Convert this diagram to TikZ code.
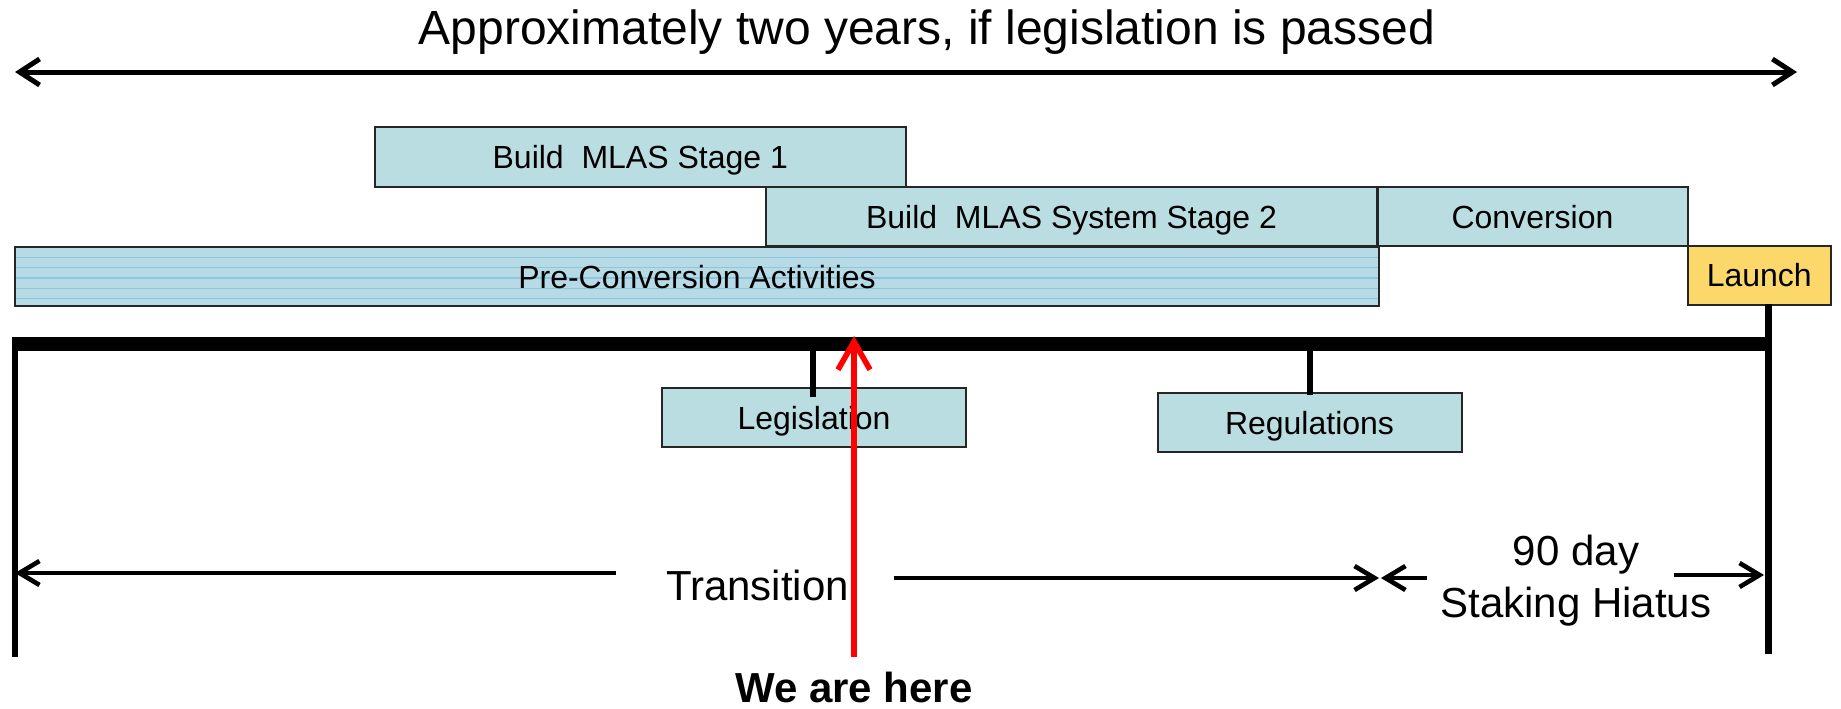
\documentclass[tikz,border=0pt]{standalone}
\usepackage{fontspec}
\setmainfont{Liberation Sans}
\usetikzlibrary{arrows.meta}
\definecolor{boxfill}{HTML}{B9DDE0}
\definecolor{prefill}{HTML}{B6DAE6}
\definecolor{preline}{HTML}{8FC6DA}
\definecolor{launchfill}{HTML}{FCD86A}
\definecolor{redarrow}{HTML}{FF0000}
\begin{document}
\begin{tikzpicture}[x=0.5pt,y=-0.5pt,
  boxbase/.style={draw=black!85, line width=1pt, inner sep=0pt,
    font=\fontsize{16}{19}\selectfont, text height=11.5pt, text depth=0pt},
  taskbox/.style={boxbase, fill=boxfill},
  prebox/.style={boxbase, fill=prefill,
    path picture={\foreach \k in {1,...,5}{\draw[preline,line width=0.6pt]
      ([yshift=-\k*5.15pt]path picture bounding box.north west) --
      ([yshift=-\k*5.15pt]path picture bounding box.north east);}}},
  launchbox/.style={boxbase, fill=launchfill},
  arr/.style={line width=2.3pt, -{Straight Barb[length=10pt,width=12pt]}},
  dblarr/.style={line width=2.5pt, {Straight Barb[length=10pt,width=13pt]}-{Straight Barb[length=10pt,width=13pt]}},
  redarr/.style={draw=redarrow, line width=2.8pt, -{Straight Barb[length=14pt,width=16pt]}},
  tickline/.style={line width=3pt},
  timeline/.style={line width=7pt},
  bigtext/.style={font=\fontsize{21}{25}\selectfont, inner sep=0pt, anchor=base},
]
\useasboundingbox (0,0) rectangle (1841,708);

% title and overall arrow
\node[font=\fontsize{24}{29}\selectfont, inner sep=0pt, anchor=base] (title) at (927,44)
  {Approximately two years, if legislation is passed};
\coordinate (topL) at (15,72);
\coordinate (topR) at (1797,72);
\draw[dblarr] (topL) -- (topR);

% task boxes
\node[taskbox, minimum width=265.75pt, minimum height=30pt] (s1) at (640.25,157) {Build\ \ MLAS Stage 1};
\node[taskbox, minimum width=305.5pt, minimum height=29.5pt] (s2) at (1071.5,216.5) {Build\ \ MLAS System Stage 2};
\node[taskbox, minimum width=155pt, minimum height=29.5pt] (conv) at (1532.5,216.5) {Conversion};
\node[prebox, minimum width=682pt, minimum height=29.5pt] (pre) at (697,276.5) {Pre-Conversion Activities};
\node[launchbox, minimum width=71.75pt, minimum height=29.25pt] (launch) at (1759.25,275.25) {Launch};

% timeline
\coordinate (barL) at (12,344);
\coordinate (barR) at (1772,344);
\draw[timeline] (barL) -- (barR);
\coordinate (leftTop) at (15,344);
\coordinate (leftBot) at (15,657);
\draw[tickline] (leftTop) -- (leftBot);
\coordinate (rightTop) at (1768.5,304);
\coordinate (rightBot) at (1768.5,654);
\draw[line width=3.5pt] (rightTop) -- (rightBot);

% legislation / regulations
\node[taskbox, minimum width=152pt, minimum height=29.5pt] (leg) at (814,417.5) {Legislation};
\node[taskbox, minimum width=152pt, minimum height=29.5pt] (reg) at (1309.5,422.5) {Regulations};
\draw[tickline] ([xshift=-0.75pt,yshift=-5pt]leg.north) -- ([xshift=-0.75pt]leg.north |- barL);
\draw[tickline] ([yshift=-1.5pt]reg.north) -- (reg.north |- barL);

% transition and hiatus
\node[bigtext] (trans) at (757.5,600) {Transition};
\coordinate (trL1) at (616,573);
\coordinate (trL2) at (15,573);
\draw[arr] (trL1) -- (trL2);
\coordinate (trR1) at (893.5,578);
\coordinate (trR2) at (1379,578);
\draw[arr] (trR1) -- (trR2);
\node[bigtext] (hia1) at (1576,565) {90 day};
\node[bigtext] (hia2) at (1576,617) {Staking Hiatus};
\coordinate (hL1) at (1427,578);
\coordinate (hL2) at (1381,578);
\draw[arr] (hL1) -- (hL2);
\coordinate (hR1) at (1674,575);
\coordinate (hR2) at (1764,575);
\draw[arr] (hR1) -- (hR2);

% we are here
\node[font=\bfseries\fontsize{21}{25}\selectfont, inner sep=0pt, anchor=base] (here) at (854,702) {We are here};
\coordinate (hereBot) at (854,657);
\coordinate (hereTop) at (854,336);
\draw[redarr] (hereBot) -- (hereTop);
\end{tikzpicture}
\end{document}
